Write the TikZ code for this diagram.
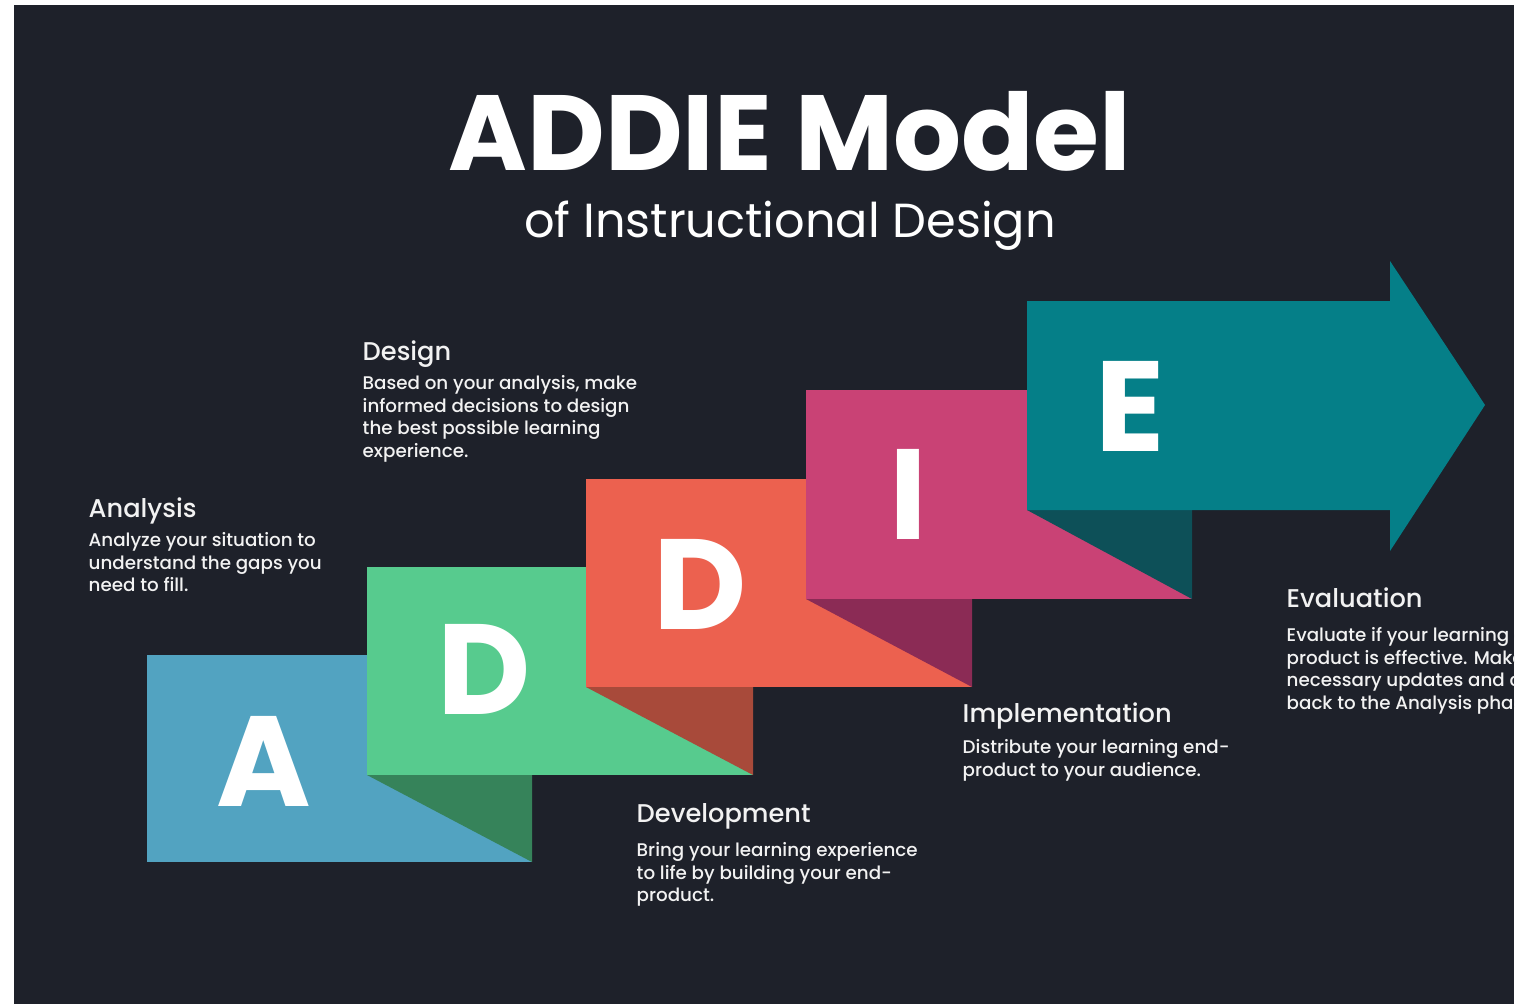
\documentclass[tikz,border=0pt]{standalone}
\usepackage{fontspec}
\setmainfont{Poppins}
\newfontfamily\popmed{Poppins}[UprightFont=* Medium, BoldFont=* Bold]
\usetikzlibrary{positioning}

\definecolor{bgdark}{HTML}{1E212A}
\definecolor{blueA}{HTML}{52A3C1}
\definecolor{greenD}{HTML}{57CB8E}
\definecolor{greenshade}{HTML}{36835A}
\definecolor{orangeD}{HTML}{EC614F}
\definecolor{orangeshade}{HTML}{A84A3A}
\definecolor{magentaI}{HTML}{C94275}
\definecolor{magentashade}{HTML}{8B2B55}
\definecolor{tealE}{HTML}{057F88}
\definecolor{tealshade}{HTML}{0D5058}
\definecolor{paletext}{HTML}{F2F2F2}

\begin{document}
\begin{tikzpicture}[x=0.01cm,y=-0.01cm,
  blockletter/.style={anchor=base,inner sep=0pt,text=white,font=\fontsize{36.5}{36}\selectfont\bfseries},
  phasehead/.style={anchor=base west,inner sep=0pt,text=paletext,font=\fontsize{7.3}{9}\selectfont\popmed},
  phasetext/.style={anchor=north west,inner sep=0pt,align=left,text=paletext,font=\fontsize{5.2}{6.4}\selectfont\popmed}]
\useasboundingbox (0,0) rectangle (1522,1006);
\fill [white] (0,0) rectangle (1522,1006);
\begin{scope}
\clip (14,5) rectangle (1514,1004);
\fill [bgdark] (14,5) rectangle (1514,1004);

% title
\node [anchor=base,inner sep=0pt,text=white,font=\fontsize{30.4}{30}\selectfont\bfseries] (title) at (790,170) {ADDIE Model};
\node [anchor=base,inner sep=0pt,text=white,font=\fontsize{13.6}{14}\selectfont] (subtitle) at (790,237) {of Instructional Design};

% steps
\fill [blueA] (147,655) rectangle (532,862);
\fill [greenshade] (367,775) -- (532,775) -- (532,862) -- cycle;
\fill [greenD] (367,567) rectangle (753,775);
\fill [orangeshade] (586,687) -- (753,687) -- (753,775) -- cycle;
\fill [orangeD] (586,479) rectangle (972,687);
\fill [magentashade] (806,599) -- (972,599) -- (972,687) -- cycle;
\fill [magentaI] (806,390) rectangle (1192,599);
\fill [tealshade] (1027,510) -- (1192,510) -- (1192,599) -- cycle;
\fill [tealE] (1027,301) -- (1390,301) -- (1390,261) -- (1485,405)
  -- (1390,551) -- (1390,510) -- (1027,510) -- cycle;

\node [blockletter] (letA) at (264,806) {A};
\node [blockletter] (letD) at (484,714) {D};
\node [blockletter] (letDD) at (700,629) {D};
\node [blockletter] (letI) at (908,539) {I};
\node [blockletter] (letE) at (1130,451) {E};

% phase texts
\node [phasehead] (anhead) at (88,517) {Analysis};
\node [phasetext, below=1.5mm of anhead.base west, anchor=north west] (antext)
  {Analyze your situation to\\understand the gaps you\\need to fill.};
\node [phasehead] (dehead) at (362,360) {Design};
\node [phasetext, below=1.5mm of dehead.base west, anchor=north west] (detext)
  {Based on your analysis, make\\informed decisions to design\\the best possible learning\\experience.};
\node [phasehead] (dvhead) at (636,822) {Development};
\node [phasetext, below=2.0mm of dvhead.base west, anchor=north west] (dvtext)
  {Bring your learning experience\\to life by building your end-\\product.};
\node [phasehead] (imhead) at (962,722) {Implementation};
\node [phasetext, below=1.7mm of imhead.base west, anchor=north west] (imtext)
  {Distribute your learning end-\\product to your audience.};
\node [phasehead] (evhead) at (1286,607) {Evaluation};
\node [phasetext, below=2.0mm of evhead.base west, anchor=north west] (evtext)
  {Evaluate if your learning end-\\product is effective. Make\\necessary updates and circle\\back to the Analysis phase.};
\end{scope}
\end{tikzpicture}
\end{document}
